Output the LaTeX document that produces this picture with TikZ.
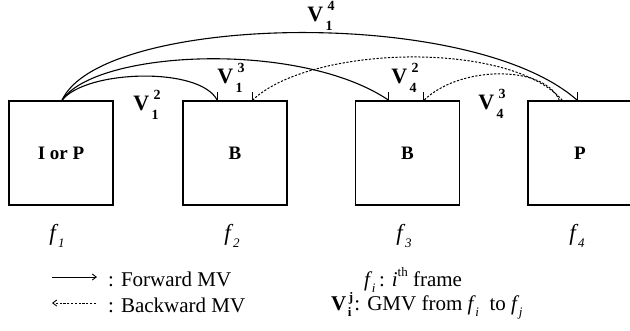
\documentclass[tikz,border=0pt]{standalone}
\usepackage{fontspec}
\setmainfont{Liberation Serif}
\usetikzlibrary{arrows.meta,calc}
\newcommand\frm[1]{\textit{f}\kern-0.5pt\raisebox{-0.3em}{\fontsize{13}{13}\selectfont\textit{#1}}}
\newcommand\gmvlab[2]{\textbf{V}\kern2.5pt\makebox[0pt][l]{\kern2pt\raisebox{0.48em}{\fontsize{14}{14}\selectfont\bfseries #2}}\raisebox{-0.4em}{\fontsize{14}{14}\selectfont\bfseries #1}\hspace{0.45em}}
\tikzset{
  framebox/.style={draw, line width=1.3pt, minimum width=104pt, minimum height=104pt, inner sep=0pt,
    font=\fontsize{19}{19}\selectfont\bfseries},
  arc/.style={line width=1.1pt},
  fwd/.style={line width=1pt, -{Straight Barb[length=4pt,width=6pt,line width=0.9pt]}},
  dotline/.style={line width=1pt, dash pattern=on 2.2pt off 1.6pt},
  bwd/.style={dotline, -{Straight Barb[length=4pt,width=6pt,line width=0.9pt]}},
  tk/.style={line width=1.1pt},
  vlab/.style={font=\fontsize{22}{22}\selectfont, inner sep=0pt},
  flab/.style={font=\fontsize{23}{23}\selectfont, inner sep=0pt},
  legtext/.style={font=\fontsize{21}{21}\selectfont, inner sep=0pt},
}
\begin{document}
\begin{tikzpicture}[x=1pt,y=-1pt]
\useasboundingbox (0,0) rectangle (630,330);
\clip (0,0) rectangle (630,330);
% frames
\node[framebox] (b1) at (61,153) {I or P};
\node[framebox] (b2) at (235,153) {B};
\node[framebox] (b3) at (407.5,153) {B};
\node[framebox] (b4) at (580,153) {P};
% arc end points
\coordinate (s1) at ($(b1.north)+(1,0)$);
\coordinate (e12) at ($(b2.north west)+(35,0)$);
\coordinate (e42) at ($(b2.north west)+(70,0)$);
\coordinate (e13) at ($(b3.north west)+(34,0)$);
\coordinate (e43) at ($(b3.north west)+(69,0)$);
\coordinate (e14) at ($(b4.north west)+(50,0)$);
\coordinate (s42) at ($(b4.north west)+(35,0)$);
\coordinate (s43) at ($(b4.north west)+(32,0)$);
% forward arcs
\draw[arc] (s1) .. controls (85,70) and (200,66) .. (e12);
\draw[arc] (s1) .. controls (95,50) and (300,40) .. (e13);
\draw[arc] (s1) .. controls (100,15) and (470,5) .. (e14);
% backward arcs
\draw[dotline] (s42) .. controls (510,40) and (310,45) .. (e42);
\draw[dotline] (s43) .. controls (545,65) and (460,65) .. (e43);
% arrow ticks
\foreach \c in {e12,e42,e13,e43,e14} \draw[tk] (\c) -- ++(0,-8);
% arc labels
\node[vlab] (l14) at (320,16) {\gmvlab{1}{4}};
\node[vlab] (l13) at (230,78) {\gmvlab{1}{3}};
\node[vlab] (l12) at (146,105) {\gmvlab{1}{2}};
\node[vlab] (l42) at (404,78) {\gmvlab{4}{2}};
\node[vlab] (l43) at (491,104) {\gmvlab{4}{3}};
% frame labels
\node[flab] (f1) at (57,236) {\frm{1}};
\node[flab] (f2) at (232,236) {\frm{2}};
\node[flab] (f3) at (404,236) {\frm{3}};
\node[flab] (f4) at (577,236) {\frm{4}};
% legend
\coordinate (fa1) at (52,277);
\coordinate (fa2) at (97,277);
\coordinate (ba1) at (96,303);
\coordinate (ba2) at (52,303);
\draw[fwd] (fa1) -- (fa2);
\draw[bwd] (ba1) -- (ba2);
\node[legtext, anchor=west] (t1) at (108,279) {: Forward MV};
\node[legtext, anchor=west] (t2) at (108,305) {: Backward MV};
\node[legtext, anchor=west] (t3) at (364,280) {\frm{i}\,: \textit{i}\raisebox{0.45em}{\fontsize{13}{13}\selectfont th} frame};
\node[legtext, anchor=west] (t4) at (331,306) {\textbf{V}\kern1.5pt\makebox[0pt][l]{\kern1pt\raisebox{0.4em}{\fontsize{13}{13}\selectfont\bfseries j}}\raisebox{-0.3em}{\fontsize{13}{13}\selectfont\bfseries i}\kern3pt: GMV from \frm{i}\ \ to \frm{j}};
\end{tikzpicture}
\end{document}
